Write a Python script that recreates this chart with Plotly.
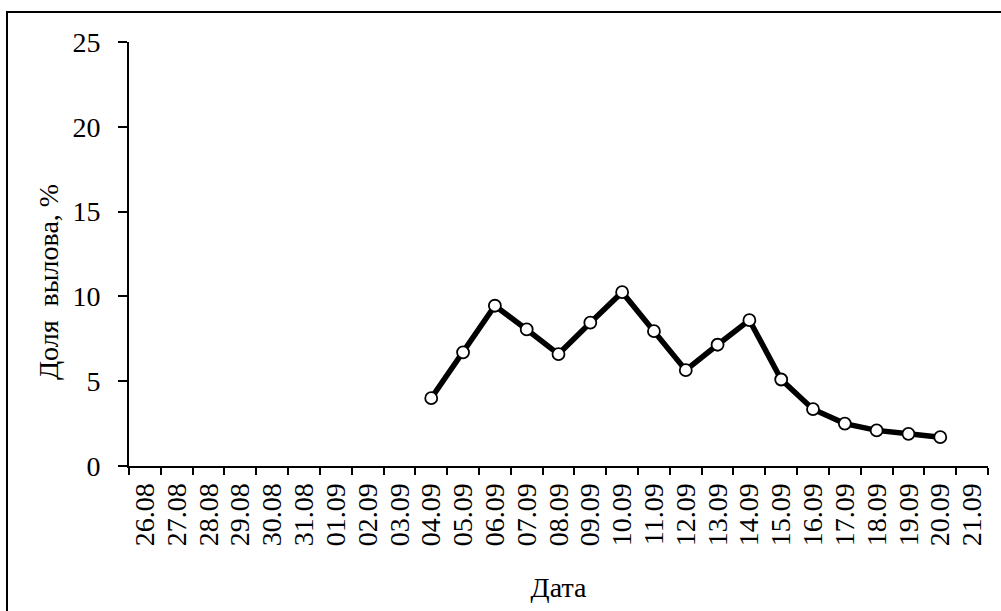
import plotly.graph_objects as go

dates = ["26.08", "27.08", "28.08", "29.08", "30.08", "31.08",
         "01.09", "02.09", "03.09", "04.09", "05.09", "06.09", "07.09",
         "08.09", "09.09", "10.09", "11.09", "12.09", "13.09", "14.09",
         "15.09", "16.09", "17.09", "18.09", "19.09", "20.09", "21.09"]
share = [None, None, None, None, None, None,
         None, None, None, 4.0, 6.7, 9.45, 8.05,
         6.6, 8.45, 10.25, 7.95, 5.65, 7.15, 8.6,
         5.1, 3.35, 2.5, 2.1, 1.9, 1.7, None]
y_ticks = [0, 5, 10, 15, 20, 25]

W, H = 1001, 611
L, R, T, B = 129, 988, 42, 466
FS = 28

fig = go.Figure()
fig.add_trace(go.Scatter(
    x=dates, y=share, mode="lines+markers",
    line=dict(color="black", width=5.5),
    marker=dict(symbol="circle", size=12, color="white",
                line=dict(color="black", width=1.8)),
    connectgaps=False, showlegend=False,
))

font = "Liberation Serif"
fig.update_layout(
    width=W, height=H,
    margin=dict(l=L, r=W - R, t=T, b=H - B, pad=0),
    paper_bgcolor="white", plot_bgcolor="white",
    font=dict(family=font, color="black", size=FS),
    xaxis=dict(
        type="category", categoryorder="array", categoryarray=dates,
        range=[-0.5, len(dates) - 0.5],
        tickmode="array", tickvals=dates, ticktext=dates,
        tickson="boundaries", ticks="outside", ticklen=7, tickwidth=1.5,
        tickcolor="black", showline=True, linecolor="black", linewidth=2,
        showgrid=False, zeroline=False, tickangle=-90,
        ticklabelstandoff=4,
        tickfont=dict(size=FS, family=font, color="black"),
        title=dict(text="Дата", font=dict(size=FS, family=font, color="black"),
                   standoff=32),
    ),
    yaxis=dict(
        range=[0, 25], tickvals=y_ticks, ticks="outside", ticklen=9,
        tickwidth=1.5, tickcolor="black", showline=True, linecolor="black",
        linewidth=2, showgrid=False, zeroline=False,
        ticklabelstandoff=12,
        tickfont=dict(size=FS, family=font, color="black"),
    ),
)

pw, ph = R - L, B - T
def px_x(p):
    return (p - L) / pw
def px_y(p):
    return (B - p) / ph

fig.add_annotation(text="Доля  вылова, %", xref="paper", yref="paper",
                   x=px_x(48), y=px_y(282), xanchor="center", yanchor="middle",
                   textangle=-90, showarrow=False,
                   font=dict(size=FS, family=font, color="black"))

fig.add_shape(type="rect", xref="paper", yref="paper",
              x0=px_x(7), x1=px_x(1015), y0=px_y(625), y1=px_y(12),
              line=dict(color="black", width=2), fillcolor="rgba(0,0,0,0)",
              layer="above")

fig.write_html("out.html", config={"displayModeBar": False},
               post_script="document.body.style.margin='0';"
                           "document.body.style.overflow='hidden';")
